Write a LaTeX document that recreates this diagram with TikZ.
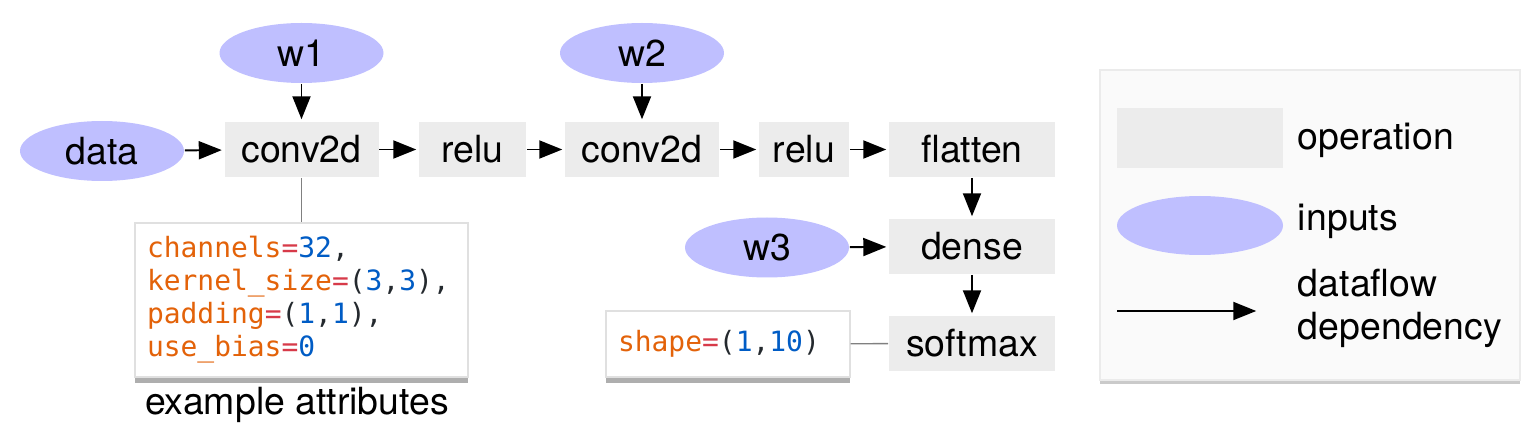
\documentclass[tikz,border=0pt]{standalone}
\usepackage{fontspec}
\setmainfont{TeX Gyre Heros}
\setmonofont{DejaVu Sans Mono}
\usetikzlibrary{shapes.geometric,arrows.meta,positioning,shadows}

\definecolor{inputblue}{HTML}{BFBFFF}
\definecolor{opgray}{HTML}{ECECEC}
\definecolor{legendbg}{HTML}{FAFAFA}
\definecolor{codeorange}{HTML}{E36209}
\definecolor{codered}{HTML}{D73A49}
\definecolor{codeblue}{HTML}{005CC5}
\definecolor{codedark}{HTML}{24292E}

\newcommand{\cattr}[1]{\textcolor{codeorange}{#1}}
\newcommand{\ceq}{\textcolor{codered}{=}}
\newcommand{\cnum}[1]{\textcolor{codeblue}{#1}}

\tikzset{
  op/.style={fill=opgray,minimum height=1.1cm,inner sep=0pt},
  input/.style={ellipse,fill=inputblue,minimum width=3.28cm,minimum height=1.2cm,inner sep=0pt},
  codebox/.style={fill=white,draw=black!12,line width=0.6pt,inner xsep=0.24cm,inner ysep=0pt,
    align=left,text=codedark,font=\fontsize{15.9}{18.8}\selectfont\ttfamily,
    drop shadow={shadow xshift=0pt,shadow yshift=-3.5pt,fill=black!70,opacity=0.45}},
  legendbox/.style={fill=legendbg,draw=black!8,line width=0.6pt,inner sep=0pt,
    drop shadow={shadow xshift=0pt,shadow yshift=-2pt,fill=black!60,opacity=0.35}},
  link/.style={draw=black!50,line width=0.8pt,shorten >=0pt},
  legendtext/.style={anchor=west,inner sep=0pt,align=left}
}

\begin{document}
\begin{tikzpicture}[shorten >=1pt,>={Triangle[length=0.46cm,width=0.36cm]},line width=1.1pt,
  font=\fontsize{21.3}{24.5}\selectfont]
 \useasboundingbox (0,0) rectangle (30.76,-8.84);

 \node[legendbox,minimum width=8.4cm,minimum height=6.2cm] (legend) at (26.20,-4.50) {};
 \node[op,minimum width=3.32cm,minimum height=1.2cm] (lg_op) at (24.00,-2.76) {};
 \node[input,minimum width=3.32cm,minimum height=1.18cm] (lg_in) at (24.00,-4.51) {};
 \coordinate (lg_s) at (22.34,-6.22);
 \coordinate (lg_e) at (25.16,-6.22);
 \node[legendtext] (lg_op_txt) at (25.94,-2.80) {operation};
 \node[legendtext] (lg_in_txt) at (25.94,-4.42) {inputs};
 \node[legendtext] (lg_df_txt) at (25.94,-6.17) {dataflow\\dependency};

 \node[input] (data) at (2.04,-3.02) {data};
 \node[input] (w1) at (6.03,-1.06) {w1};
 \node[op,minimum width=3.08cm] (conv_1) at (6.03,-2.99) {conv2d};
 \node[op,minimum width=2.14cm] (relu_1) at (9.45,-2.99) {relu};
 \node[input] (w2) at (12.84,-1.06) {w2};
 \node[op,minimum width=3.08cm] (conv_2) at (12.84,-2.99) {conv2d};
 \node[op,minimum width=1.80cm] (relu_2) at (16.08,-2.99) {relu};
 \node[op,minimum width=3.32cm] (flatten) at (19.44,-2.99) {flatten};
 \node[op,minimum width=3.32cm] (dense) at (19.44,-4.93) {dense};
 \node[input] (w3) at (15.34,-4.95) {w3};
 \node[op,minimum width=3.32cm] (softmax) at (19.44,-6.87) {softmax};

 \node[codebox,minimum width=6.66cm,minimum height=3.08cm,text width=6.18cm] (attr) at (6.03,-6.00)
  {\cattr{channels}\ceq\cnum{32},\\
   \cattr{kernel\_size}\ceq(\cnum{3},\cnum{3}),\\
   \cattr{padding}\ceq(\cnum{1},\cnum{1}),\\
   \cattr{use\_bias}\ceq\cnum{0}};
 \node (attr_caption) at (5.94,-8.10) {example attributes};
 \node[codebox,minimum width=4.88cm,minimum height=1.32cm,text width=4.40cm] (shape) at (14.56,-6.88)
  {\cattr{shape}\ceq(\cnum{1},\cnum{10})};

 \path[->]
 (data) edge (conv_1)
 (w1) edge (conv_1)
 (conv_1) edge (relu_1)
 (relu_1) edge (conv_2)
 (w2) edge (conv_2)
 (conv_2) edge (relu_2)
 (relu_2) edge (flatten)
 (flatten) edge (dense)
 (w3) edge (dense)
 (dense) edge (softmax)
 (lg_s) edge (lg_e);

 \path
 (conv_1) edge[link] (attr)
 (shape) edge[link] (softmax);
\end{tikzpicture}
\end{document}
